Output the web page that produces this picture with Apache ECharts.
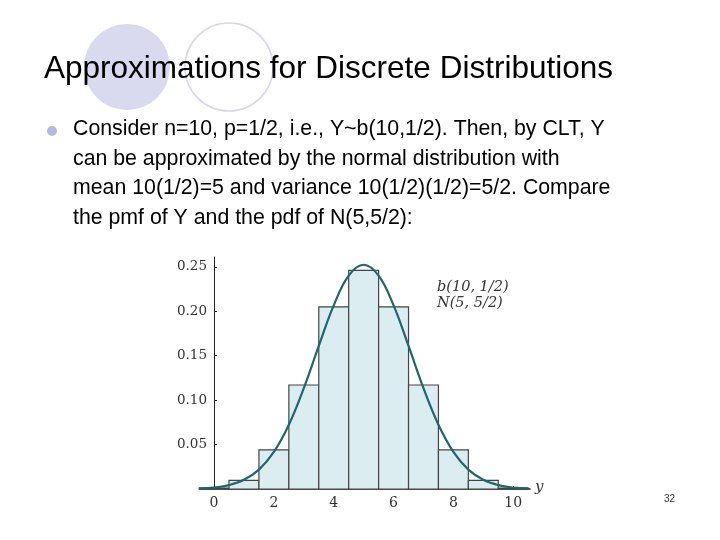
<!DOCTYPE html>
<html><head><meta charset="utf-8">
<script src="https://cdn.jsdelivr.net/npm/echarts@6/dist/echarts.min.js"></script>
<style>html,body{margin:0;padding:0;background:#fff}#c{width:720px;height:540px}</style>
</head><body><div id="c"></div>
<script>
const ks = [0,1,2,3,4,5,6,7,8,9,10];
const pmf = [0.001,0.0098,0.044,0.117,0.205,0.246,0.205,0.117,0.044,0.0098,0.001];
const curveX = [-0.5,0,0.5,1,1.5,2,2.5,3,3.5,4,4.5,5,5.5,6,6.5,7,7.5,8,8.5,9,9.5,10,10.5];
const curveY = [0.0006,0.0017,0.0044,0.0103,0.0218,0.0417,0.0723,0.1134,0.1609,0.2066,0.240,0.2523,0.240,0.2066,0.1609,0.1134,0.0723,0.0417,0.0218,0.0103,0.0044,0.0017,0.0006];
const xTickVals = [0,1,2,3,4,5,6,7,8,9,10];
const xLabelVals = [0,2,4,6,8,10];
const yTickVals = [0.05,0.10,0.15,0.20,0.25];
const bodyLines = [
 'Consider n=10, p=1/2, i.e., Y~b(10,1/2). Then, by CLT, Y',
 'can be approximated by the normal distribution with',
 'mean 10(1/2)=5 and variance 10(1/2)(1/2)=5/2. Compare',
 'the pmf of Y and the pdf of N(5,5/2):'
];
const chart = echarts.init(document.getElementById('c'));
const serif = 'DejaVu Serif';
chart.setOption({
 animation:false,
 grid:{left:200,right:190,top:257,bottom:51},
 xAxis:{type:'value',min:-0.47,max:10.56,
  axisLine:{onZero:false,lineStyle:{color:'#222',width:1.5}},
  axisTick:{show:true,length:3,inside:true,customValues:xTickVals,lineStyle:{color:'#222'}},
  axisLabel:{color:'#333',fontFamily:serif,fontSize:14,margin:7,customValues:xLabelVals},
  splitLine:{show:false}},
 yAxis:{type:'value',min:0,max:0.261,
  axisLine:{show:true,onZero:true,lineStyle:{color:'#222',width:1}},
  axisTick:{show:true,length:3,inside:true,customValues:yTickVals,lineStyle:{color:'#222'}},
  axisLabel:{color:'#333',fontFamily:serif,fontSize:13.5,margin:-7,customValues:yTickVals,
   formatter:v=>v.toFixed(2)},
  splitLine:{show:false}},
 series:[
  {type:'custom',data:ks.map((k,i)=>[k,pmf[i]]),
   renderItem:(params,api)=>{
    const k=api.value(0),p=api.value(1);
    const a=api.coord([k-0.5,p]),b=api.coord([k+0.5,0]);
    return {type:'rect',shape:{x:a[0],y:a[1],width:b[0]-a[0],height:b[1]-a[1]},
     style:{fill:'#dcedf1',stroke:'#444',lineWidth:1.2}};
   }},
  {type:'line',data:curveX.map((x,i)=>[x,curveY[i]]),smooth:0.4,showSymbol:false,
   lineStyle:{color:'#1e6670',width:2.2}}
 ],
 graphic:[
  {type:'circle',shape:{cx:127,cy:67,r:43},style:{fill:'#d9d9ef'},z:-1},
  {type:'circle',shape:{cx:229,cy:67,r:44},style:{fill:'none',stroke:'#d8d8ea',lineWidth:1.5},z:-1},
  {type:'text',left:44,top:53,style:{text:'Approximations for Discrete Distributions',font:'31.5px "Liberation Sans"',fill:'#000'}},
  {type:'circle',shape:{cx:52,cy:131,r:5},style:{fill:'#b8b8e4'}},
  ...bodyLines.map((t,i)=>({type:'text',left:73,top:119+i*29.5,style:{text:t,font:'21.3px "Liberation Sans"',fill:'#000'}})),
  {type:'text',left:437,top:279,style:{text:'b(10, 1/2)\nN(5, 5/2)',font:'italic 14.5px "DejaVu Serif"',fill:'#333',lineHeight:16}},
  {type:'text',left:535,top:480,style:{text:'y',font:'italic 15px "DejaVu Serif"',fill:'#333'}},
  {type:'text',left:664,top:494,style:{text:'32',font:'10px "Liberation Sans"',fill:'#333'}}
 ]
});
</script></body></html>
